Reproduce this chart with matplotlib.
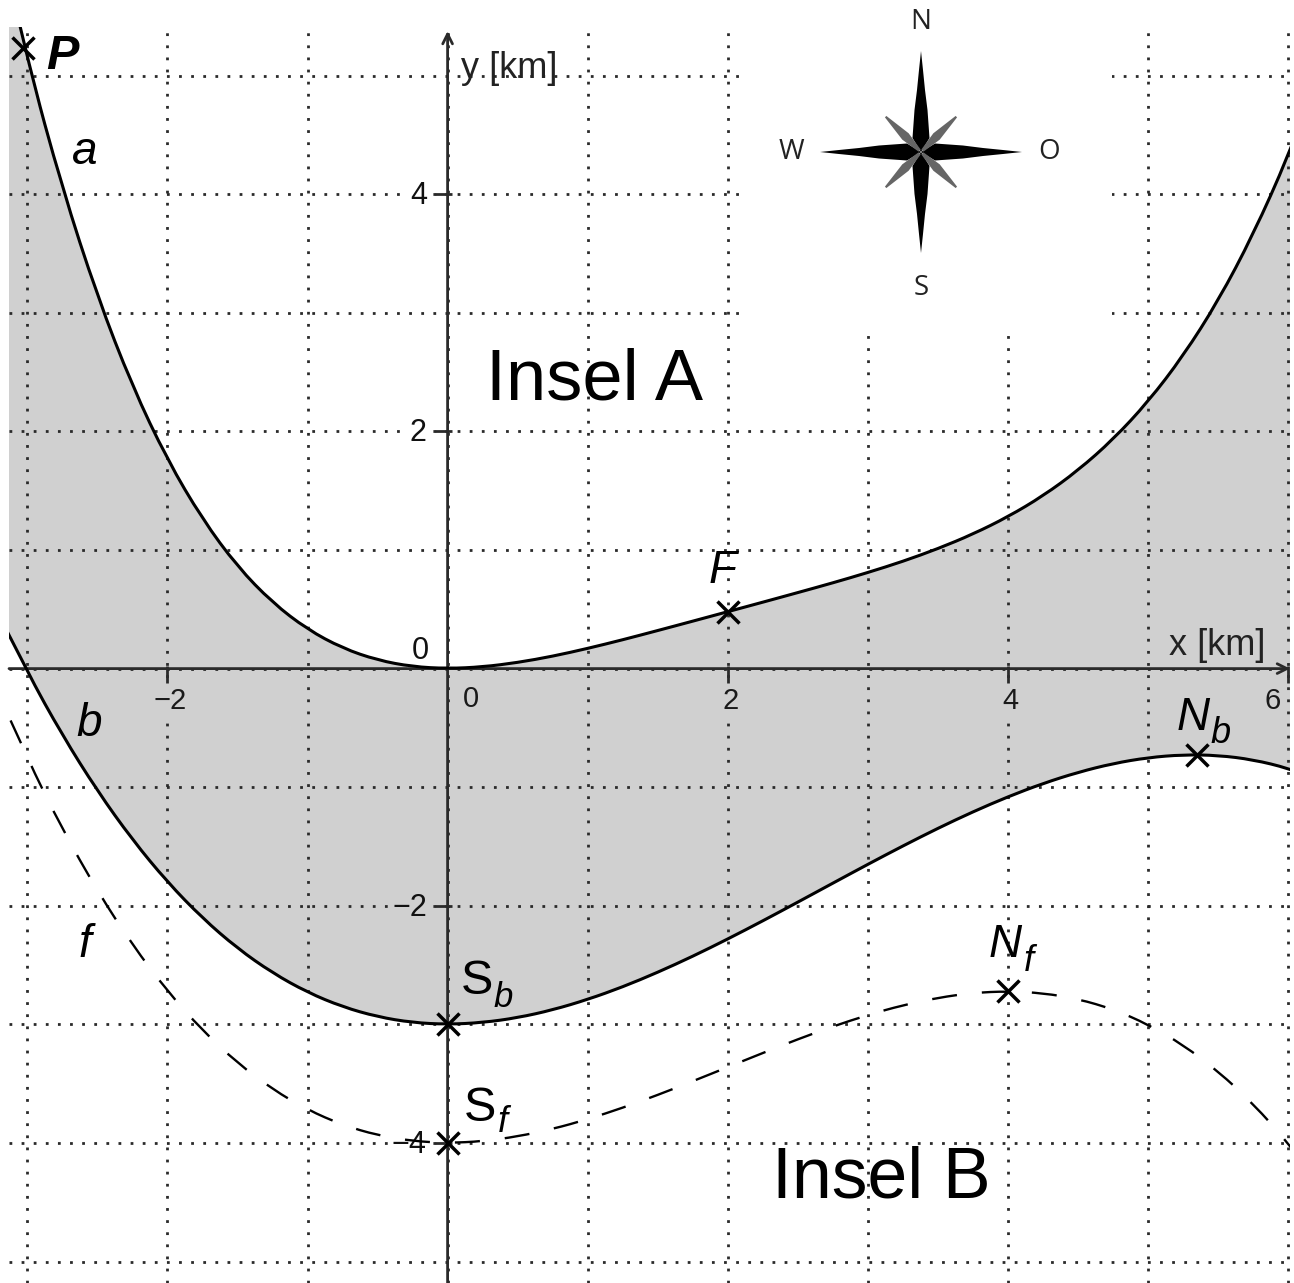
import matplotlib
matplotlib.use('Agg')
import matplotlib.pyplot as plt
from matplotlib.patches import Polygon, Rectangle, PathPatch
from matplotlib.path import Path

plt.rcParams['font.family'] = ['Liberation Sans', 'DejaVu Sans']

x_vals = [-3.25, -3, -2.75, -2.5, -2.25, -2, -1.75, -1.5, -1.25, -1, -0.75, -0.5, -0.25,
          0, 0.25, 0.5, 0.75, 1, 1.25, 1.5, 1.75, 2, 2.25, 2.5, 2.75, 3, 3.25, 3.5, 3.75,
          4, 4.25, 4.5, 4.75, 5, 5.25, 5.5, 5.75, 6, 6.25]
a_vals = [6.40, 5.13, 4.05, 3.14, 2.38, 1.76, 1.26, 0.86, 0.556, 0.33, 0.172, 0.071, 0.016,
          0, 0.014, 0.051, 0.104, 0.17, 0.243, 0.321, 0.40, 0.48, 0.56, 0.641, 0.723, 0.81, 0.904, 1.011, 1.134,
          1.28, 1.456, 1.671, 1.932, 2.25, 2.636, 3.10, 3.66, 4.32, 5.10]
b_vals = [0.565, -0.03, -0.561, -1.031, -1.443, -1.8, -2.104, -2.359, -2.566, -2.73, -2.852, -2.936, -2.985,
          -3, -2.985, -2.944, -2.878, -2.79, -2.684, -2.561, -2.426, -2.28, -2.127, -1.969, -1.809, -1.65, -1.495, -1.346, -1.207,
          -1.08, -0.968, -0.874, -0.80, -0.75, -0.726, -0.731, -0.768, -0.84, -0.949]
f_vals = [-0.092, -0.76, -1.353, -1.875, -2.329, -2.72, -3.051, -3.325, -3.547, -3.72, -3.848, -3.935, -3.984,
          -4, -3.986, -3.945, -3.882, -3.8, -3.703, -3.595, -3.479, -3.36, -3.241, -3.125, -3.017, -2.92, -2.838, -2.775, -2.734,
          -2.72, -2.736, -2.785, -2.872, -3, -3.173, -3.395, -3.669, -4, -4.391]

point_x = [-3.03, 2, 5.35, 4, 0, 0]
point_y = [5.23, 0.48, -0.73, -2.72, -3, -4]

grid_x = [-3, -2, -1, 0, 1, 2, 3, 4, 5, 6]
grid_y = [-5, -4, -3, -2, -1, 1, 2, 3, 4, 5, 0]
x_ticks = [-2, 2, 4, 6]
y_ticks = [-4, -2, 2, 4]
y_tick_bg = ['white', '#d0d0d0', 'white', 'white']

# pixel position in the picture -> data units
def px(x, y):
    return (x - 447.6) / 140.1, (668.6 - y) / 118.6

# smooth curve through the values (quadratic segments between midpoints)
def curve(xs, ys, **kw):
    verts = [(xs[0], ys[0])]
    codes = [Path.MOVETO]
    for i in range(1, len(xs) - 1):
        verts.append((xs[i], ys[i]))
        verts.append(((xs[i] + xs[i + 1]) / 2, (ys[i] + ys[i + 1]) / 2))
        codes += [Path.CURVE3, Path.CURVE3]
    ax.add_patch(PathPatch(Path(verts, codes), fill=False, **kw))

fig = plt.figure(figsize=(12.94, 12.83), dpi=100)
ax = fig.add_axes([9 / 1294, 0, 1281 / 1294, 1256 / 1283])
ax.set_xlim(px(9, 0)[0], px(1290, 0)[0])
ax.set_ylim(px(0, 1283)[1], px(0, 27)[1])
ax.axis('off')

ax.fill_between(x_vals, a_vals, b_vals, color='#d0d0d0', lw=0, zorder=1)

dots = (0, (1, 3.36))
for g in grid_x:
    ax.axvline(g, color='#2a2a2a', lw=2, ls=dots, zorder=2)
for g in grid_y:
    ax.axhline(g, color='#2a2a2a', lw=2, ls=dots, zorder=2)

# white box behind the compass
x0, y0 = px(742, 332)
x1, y1 = px(1112, -5)
ax.add_patch(Rectangle((x0, y0), x1 - x0, y1 - y0, color='white', lw=0, zorder=3, clip_on=False))

# axes
ax.annotate('', xy=(px(1290, 0)[0], 0), xytext=(px(9, 0)[0], 0),
            arrowprops=dict(arrowstyle='->,head_length=0.7,head_width=0.35', color='#2a2a2a', lw=2, shrinkA=0, shrinkB=0), zorder=4)
ax.annotate('', xy=(0, px(0, 31)[1]), xytext=(0, px(0, 1283)[1]),
            arrowprops=dict(arrowstyle='->,head_length=0.7,head_width=0.35', color='#2a2a2a', lw=2, shrinkA=0, shrinkB=0), zorder=4)
ax.vlines(x_ticks, -0.12, 0.02, color='#2a2a2a', lw=2, zorder=4)
ax.hlines(y_ticks, -0.09, 0.03, color='#2a2a2a', lw=2, zorder=4)

curve(x_vals, a_vals, edgecolor='black', lw=2.2, zorder=5)
curve(x_vals, b_vals, edgecolor='black', lw=2.2, zorder=5)
curve(x_vals, f_vals, edgecolor='black', lw=1.7, ls=(2.2, (10.6, 10.6)), zorder=5)
ax.plot(point_x, point_y, ls='none', marker='x', ms=15.5, mew=2.5, color='black', zorder=6)

# tick labels, the box hides the grid dots around them
def box(c):
    return dict(facecolor=c, edgecolor='none', pad=3)

for t in x_ticks:
    ax.annotate(str(t).replace('-', '\u2212'), (t, 0), xytext=(2 if t != 6 else -11, -23), textcoords='offset points',
                ha='center', va='center', fontsize=21, color='#1a1a1a', zorder=3.5, bbox=box('#d0d0d0'))
for t, c in zip(y_ticks, y_tick_bg):
    ax.annotate(str(t).replace('-', '\u2212'), (0, t), xytext=(-15, -1.5), textcoords='offset points',
                ha='right', va='center', fontsize=22, color='#111111', zorder=3.5, bbox=box(c))
ax.text(*px(471, 699), '0', ha='center', va='center', fontsize=21, color='#1a1a1a', zorder=3.5, bbox=box('#d0d0d0'))
ax.text(*px(420, 651), '0', ha='center', va='center', fontsize=22, color='#111111', zorder=3.5, bbox=box('white'))

ax.text(*px(1169, 655), 'x [km]', fontsize=26, color='#222222', zorder=7)
ax.text(*px(461, 78), 'y [km]', fontsize=26, color='#222222', zorder=7)

ax.text(*px(486, 399), 'Insel A', fontsize=52, color='black', zorder=7)
ax.text(*px(772, 1197), 'Insel B', fontsize=51.5, color='black', zorder=7)

# curve and point labels: text, left, baseline, size, style, weight
labels = [
    ('P', 46, 69, 35, 'italic', 'bold'),
    ('a', 72, 164, 33, 'italic', 'normal'),
    ('b', 76, 736, 33, 'italic', 'normal'),
    ('f', 78, 957, 33, 'italic', 'normal'),
    ('F', 709, 583, 33, 'italic', 'normal'),
    ('N', 1177, 730, 33, 'italic', 'normal'),
    ('b', 1210, 743, 26, 'italic', 'normal'),
    ('N', 989, 957, 33, 'italic', 'normal'),
    ('f', 1024, 971, 26, 'italic', 'normal'),
    ('S', 461, 994, 35, 'normal', 'normal'),
    ('b', 494, 1007, 25, 'italic', 'normal'),
    ('S', 464, 1121, 35, 'normal', 'normal'),
    ('f', 498, 1132, 26, 'italic', 'normal'),
]
for txt, lx, ly, size, style, weight in labels:
    ax.text(*px(lx, ly), txt, fontsize=size, style=style, weight=weight, color='black', zorder=7)

# compass rose
cx, cy = 921, 152
arm = [(0, 101), (2, 82), (4, 62), (6.5, 42), (8.5, 14), (0, 0), (-8.5, 14), (-6.5, 42), (-4, 62), (-2, 82)]
diag = [(1, 50), (4.5, 22), (1.5, 2), (-1.5, 2), (-4.5, 22), (-1, 50)]
def rose(shape, turn, color, z):
    pts = []
    for u, v in shape:
        for _ in range(turn):
            u, v = v, -u
        pts.append(px(cx + u, cy - v))
    ax.add_patch(Polygon(pts, closed=True, color=color, lw=0, zorder=z, clip_on=False))

sq = 0.7071
for turn in range(4):
    rose(arm, turn, 'black', 4.5)
    d = []
    for u, v in diag:
        d.append((u * sq + v * sq, v * sq - u * sq))
    rose(d, turn, '#666666', 5)
for t, dx, dy in [('N', 0, -130), ('S', 0, 136), ('W', -130, 0), ('O', 128, 0)]:
    ax.text(*px(cx + dx, cy + dy), t, family='Open Sans', fontsize=20, color='#222222', ha='center', va='center', zorder=7, clip_on=False)

fig.savefig('out.png', dpi=100)
